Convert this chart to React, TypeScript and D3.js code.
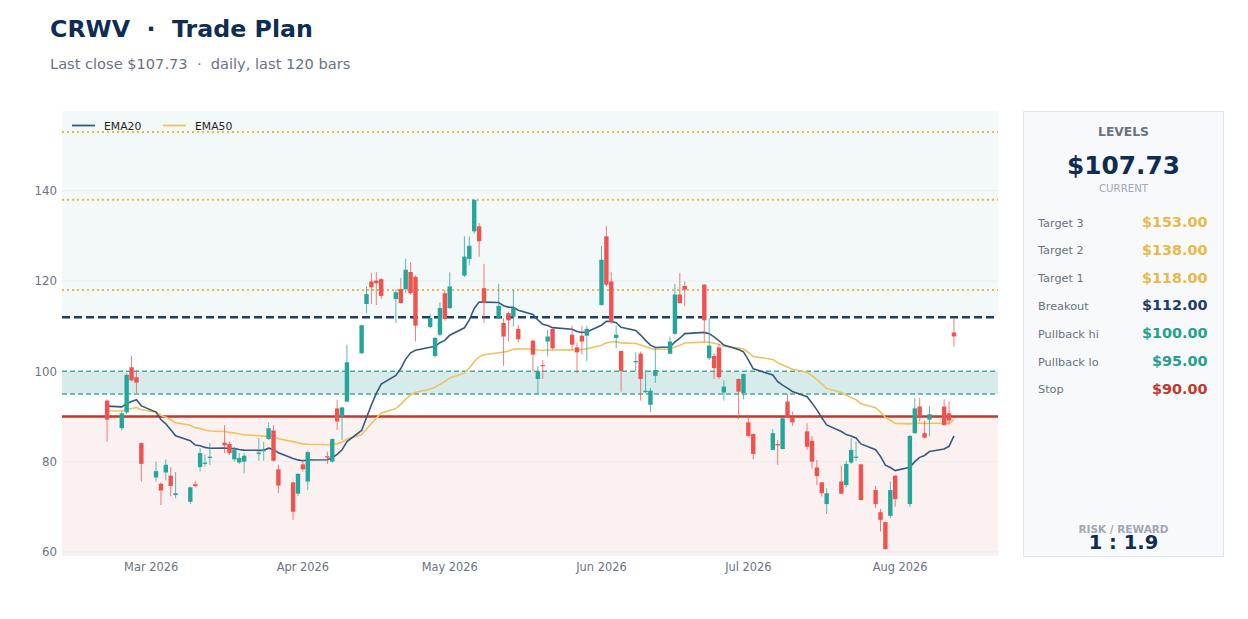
import * as d3 from "d3";
import { useEffect, useRef } from "react";

const ticker = "CRWV";
const startDate = new Date(2026, 1, 20);
const endDate = new Date(2026, 7, 12);
const holidays = ["2026-04-03", "2026-05-25", "2026-06-19", "2026-07-03"];

const opens = [
    93.5, 87.4, 90.9, 100.9, 98.7, 84.1,
    76.5, 75.1, 77.6, 76.9, 72.6,
    71.1, 75.0, 78.8, 79.5, 80.8,
    84.2, 83.9, 80.5, 79.8, 80.0,
    81.7, 82.3, 85.0, 86.9, 78.3,
    75.4, 72.9, 79.4, 75.6,
    81.2, 80.0, 91.8, 90.0, 93.3,
    104.0, 114.9, 119.9, 120.1, 120.4,
    116.0, 118.2, 118.2, 122.0, 120.9,
    109.8, 103.4, 108.1, 117.3, 114.0,
    121.2, 124.9, 131.0, 132.1, 118.4,
    111.9, 110.7, 112.9, 112.1, 109.4,
    106.8, 98.3, 101.4, 106.6, 109.4,
    108.1, 105.3, 107.9, 107.9,
    114.7, 129.9, 119.9, 107.4, 104.5,
    102.0, 103.9, 95.4, 92.6, 99.0,
    103.9, 108.3, 117.0, 118.9,
    119.2, 102.9, 103.4, 105.3, 95.3,
    98.3, 95.2, 88.7, 86.1,
    82.6, 83.9, 82.8, 93.3, 89.9,
    86.7, 84.6, 78.7, 75.4, 70.6,
    75.6, 74.8, 79.8, 80.9, 79.4,
    73.7, 68.8, 66.6, 68.0, 76.9,
    70.6, 86.3, 92.2, 86.3, 89.3,
    92.2, 90.7, 108.6
];

const highs = [
    93.8, 91.1, 99.5, 103.4, 100.3, 84.3,
    80.0, 75.4, 80.5, 78.8, 77.7,
    74.5, 75.7, 83.0, 81.5, 84.1,
    88.1, 84.5, 83.3, 81.9, 81.9,
    85.2, 84.4, 88.7, 88.1, 79.3,
    75.6, 77.4, 80.4, 82.4,
    82.2, 85.2, 93.7, 92.2, 105.9,
    110.3, 118.8, 121.8, 122.0, 120.7,
    118.1, 120.7, 124.9, 124.1, 121.2,
    112.7, 107.6, 115.2, 118.0, 121.9,
    129.9, 129.9, 138.0, 132.8, 123.8,
    119.4, 111.8, 113.2, 118.1, 110.3,
    107.0, 101.2, 102.5, 109.2, 109.6,
    110.1, 106.3, 110.1, 110.1,
    127.8, 132.2, 121.9, 110.1, 104.6,
    104.2, 104.4, 100.3, 96.3, 105.1,
    107.7, 119.4, 121.8, 119.9,
    119.3, 111.8, 104.0, 106.1, 98.0,
    98.4, 99.5, 90.4, 86.3,
    87.2, 84.8, 89.7, 95.0, 91.1,
    88.5, 85.7, 80.4, 75.5, 74.1,
    79.1, 80.2, 85.2, 84.4, 79.5,
    74.6, 69.5, 66.7, 75.6, 77.0,
    85.9, 94.1, 94.1, 89.1, 92.4,
    93.8, 93.3, 111.6
];

const lows = [
    84.4, 86.9, 90.6, 97.8, 95.2, 75.6,
    75.6, 70.4, 75.8, 72.3, 71.9,
    70.6, 74.3, 77.8, 78.9, 79.3,
    81.9, 81.5, 80.0, 79.5, 77.4,
    80.2, 80.2, 84.8, 80.0, 73.0,
    67.1, 72.4, 77.8, 73.7,
    79.5, 79.8, 87.0, 84.8, 93.1,
    103.8, 112.9, 114.9, 114.7, 116.0,
    110.7, 115.0, 117.3, 117.0, 106.6,
    109.5, 103.0, 107.7, 111.2, 113.8,
    120.9, 123.5, 130.5, 125.4, 110.7,
    111.5, 101.2, 106.6, 109.9, 106.4,
    100.0, 94.8, 98.3, 103.3, 104.8,
    104.9, 99.6, 103.7, 102.2,
    114.5, 118.8, 110.5, 105.1, 95.5,
    100.0, 93.5, 95.2, 90.9, 97.4,
    103.8, 108.1, 115.0, 114.4,
    106.6, 102.5, 98.3, 98.3, 93.5,
    89.4, 93.8, 85.4, 80.5,
    82.5, 79.3, 82.7, 89.8, 87.9,
    82.6, 78.5, 74.8, 72.3, 68.4,
    72.8, 74.3, 79.5, 80.2, 71.4,
    69.7, 64.5, 60.6, 67.5, 70.0,
    69.9, 86.2, 88.9, 85.2, 85.6,
    88.0, 88.1, 105.5
];

const closes = [
    89.3, 90.7, 99.2, 98.0, 97.5, 79.5,
    77.9, 73.6, 79.3, 74.6, 73.0,
    74.3, 74.6, 81.9, 79.8, 81.1,
    83.6, 81.9, 82.6, 80.8, 81.3,
    82.0, 82.6, 87.4, 80.2, 74.7,
    68.9, 77.3, 78.3, 82.1,
    80.9, 85.0, 88.9, 92.0, 102.0,
    110.2, 117.1, 118.6, 119.5, 116.7,
    117.5, 115.1, 122.5, 117.3, 110.1,
    111.8, 107.4, 114.0, 111.6, 118.8,
    125.4, 127.8, 138.0, 128.8, 115.2,
    114.5, 107.7, 111.3, 114.0, 107.1,
    103.7, 100.0, 101.2, 107.7, 105.1,
    105.9, 104.2, 106.6, 109.4,
    124.7, 119.2, 111.0, 108.1, 100.1,
    102.3, 98.3, 95.7, 95.7, 100.3,
    106.6, 117.0, 115.1, 118.1,
    111.3, 105.7, 100.7, 98.7, 96.6,
    95.5, 99.4, 85.7, 81.7,
    86.3, 83.6, 89.6, 89.9, 88.7,
    83.3, 80.0, 76.8, 73.0, 73.0,
    72.9, 79.5, 82.6, 81.1, 71.5,
    70.6, 67.1, 60.6, 73.7, 71.7,
    85.7, 91.8, 90.0, 85.3, 90.5,
    88.1, 89.1, 107.73
];

// ema value just before the first bar
const ema20Seed = 92.6;
const ema50Seed = 91.3;

const levelNames = ["Target 3", "Target 2", "Target 1", "Breakout", "Pullback hi", "Pullback lo", "Stop"];
const levelValues = [153, 138, 118, 112, 100, 95, 90];
const yTicks = [60, 80, 100, 120, 140];
const yDomain = [59.1, 157.65];
const riskReward = "1 : 1.9";

const GOLD = "#e9b949";
const NAVY = "#0f2d52";
const BLUE = "#1b3f68";
const TEAL = "#26a08a";
const RED = "#c0392b";
const UP = "#26a69a";
const DOWN = "#ef5350";
const GRAY = "#6b7280";
const LIGHT = "#a0a7b4";
const levelColors = [GOLD, GOLD, GOLD, BLUE, TEAL, TEAL, RED];

const fmtDate = d3.timeFormat("%Y-%m-%d");

const tradingDays = () => d3.timeDay.range(startDate, d3.timeDay.offset(endDate, 1))
    .filter(d => d.getDay() !== 0 && d.getDay() !== 6 && !holidays.includes(fmtDate(d)));

const ema = (values: number[], period: number, seed: number) => {
    const k = 2 / (period + 1);
    let prev = seed;
    return values.map(v => (prev = prev + (v - prev) * k));
};

const plot = { left: 62, right: 998, top: 111, bottom: 556 };

const App = () => {
    const ref = useRef<SVGSVGElement>(null);

    useEffect(() => {
        const svg = d3.select(ref.current);
        svg.selectAll("*").remove();
        const font = "DejaVu Sans";

        const dates = tradingDays();
        const bars = dates.map((date, i) => ({
            date, open: opens[i], high: highs[i], low: lows[i], close: closes[i]
        }));
        const ema20 = ema(closes, 20, ema20Seed);
        const ema50 = ema(closes, 50, ema50Seed);

        const x = d3.scaleTime()
            .domain([d3.timeHour.offset(dates[0], -221), d3.timeHour.offset(dates[dates.length - 1], 216)])
            .range([plot.left, plot.right]);
        const y = d3.scaleLinear().domain(yDomain).range([plot.bottom, plot.top]);
        const plotW = plot.right - plot.left;

        // title
        svg.append("text").attr("x", 50).attr("y", 37)
            .attr("font-family", font).attr("font-size", 23.7).attr("font-weight", "bold")
            .attr("fill", NAVY).attr("xml:space", "preserve")
            .text(`${ticker}  ·  Trade Plan`);
        svg.append("text").attr("x", 50).attr("y", 69)
            .attr("font-family", font).attr("font-size", 14.6).attr("fill", GRAY)
            .attr("xml:space", "preserve")
            .text(`Last close $${closes[closes.length - 1].toFixed(2)}  ·  daily, last ${bars.length} bars`);

        // zones
        const g = svg.append("g");
        g.append("rect").attr("x", plot.left).attr("width", plotW)
            .attr("y", plot.top).attr("height", y(levelValues[3]) - plot.top).attr("fill", "#f3f8f8");
        g.append("rect").attr("x", plot.left).attr("width", plotW)
            .attr("y", y(levelValues[4])).attr("height", y(levelValues[5]) - y(levelValues[4])).attr("fill", "#d7ecea");
        g.append("rect").attr("x", plot.left).attr("width", plotW)
            .attr("y", y(levelValues[6])).attr("height", plot.bottom - y(levelValues[6])).attr("fill", "#fbf1f1");

        // grid + y labels
        g.append("g").selectAll("line").data(yTicks).join("line")
            .attr("x1", plot.left).attr("x2", plot.right)
            .attr("y1", d => y(d)).attr("y2", d => y(d))
            .attr("stroke", "#e6ebef").attr("stroke-width", 0.8);
        g.append("g").selectAll("text").data(yTicks).join("text")
            .attr("x", 57).attr("y", d => y(d) + 4.3)
            .attr("text-anchor", "end").attr("font-family", font).attr("font-size", 11.8)
            .attr("fill", GRAY).text(d => d);

        // x labels
        g.append("g").selectAll("text").data(d3.timeMonth.range(d3.timeMonth.ceil(x.domain()[0]), x.domain()[1]))
            .join("text")
            .attr("x", d => x(d)).attr("y", 571)
            .attr("text-anchor", "middle").attr("font-family", font).attr("font-size", 11.4)
            .attr("fill", GRAY).text(d3.timeFormat("%b %Y"));

        // level lines
        const levelLine = (v: number, color: string, width: number, dash: string | null) => {
            const l = g.append("line").attr("x1", plot.left).attr("x2", plot.right)
                .attr("y1", y(v)).attr("y2", y(v))
                .attr("stroke", color).attr("stroke-width", width);
            if (dash) l.attr("stroke-dasharray", dash);
        };
        levelLine(levelValues[0], GOLD, 2, "2 3");
        levelLine(levelValues[1], GOLD, 2, "2 3");
        levelLine(levelValues[2], GOLD, 2, "2 3");
        levelLine(levelValues[4], "#4aa89a", 1.5, "5 3");
        levelLine(levelValues[5], "#4aa89a", 1.5, "5 3");
        levelLine(levelValues[6], RED, 2.5, null);
        levelLine(levelValues[3], BLUE, 2.5, "8 4");

        // emas
        const line = d3.line<number>().x((_, i) => x(dates[i])).y(d => y(d));
        g.append("path").attr("d", line(ema50)).attr("fill", "none")
            .attr("stroke", "#efc25e").attr("stroke-width", 1.6);
        g.append("path").attr("d", line(ema20)).attr("fill", "none")
            .attr("stroke", "#345a80").attr("stroke-width", 1.6);

        // candles
        const candles = g.append("g").selectAll("g").data(bars).join("g");
        candles.append("line")
            .attr("x1", d => x(d.date)).attr("x2", d => x(d.date))
            .attr("y1", d => y(d.high)).attr("y2", d => y(d.low))
            .attr("stroke", d => d.close >= d.open ? UP : DOWN)
            .attr("stroke-opacity", 0.75).attr("stroke-width", 1);
        candles.append("rect")
            .attr("x", d => x(d.date) - 2.2).attr("width", 4.4)
            .attr("y", d => y(Math.max(d.open, d.close)))
            .attr("height", d => Math.max(1.2, Math.abs(y(d.open) - y(d.close))))
            .attr("fill", d => d.close >= d.open ? UP : DOWN);

        // legend
        const legend = g.append("g");
        [["EMA20", "#345a80", 72], ["EMA50", "#efc25e", 163]].forEach(([name, color, lx]) => {
            legend.append("line").attr("x1", lx as number).attr("x2", (lx as number) + 23)
                .attr("y1", 125.5).attr("y2", 125.5).attr("stroke", color as string).attr("stroke-width", 1.8);
            legend.append("text").attr("x", (lx as number) + 32).attr("y", 129.5)
                .attr("font-family", font).attr("font-size", 10.8).attr("fill", "#1f1f1f").text(name as string);
        });

        // side panel
        const p = svg.append("g");
        const px = 1023.5, pw = 200;
        const cx = px + pw / 2;
        p.append("rect").attr("x", px).attr("y", 111.5).attr("width", pw).attr("height", 445)
            .attr("fill", "#f8f9fb").attr("stroke", "#dfe5ee").attr("stroke-width", 1);
        p.append("text").attr("x", cx).attr("y", 135.5).attr("text-anchor", "middle")
            .attr("font-family", font).attr("font-size", 12.3).attr("font-weight", "bold")
            .attr("fill", GRAY).text("LEVELS");
        p.append("text").attr("x", cx).attr("y", 174).attr("text-anchor", "middle")
            .attr("font-family", font).attr("font-size", 24.8).attr("font-weight", "bold")
            .attr("fill", NAVY).text(`$${closes[closes.length - 1].toFixed(2)}`);
        p.append("text").attr("x", cx).attr("y", 191.5).attr("text-anchor", "middle")
            .attr("font-family", font).attr("font-size", 10.2).attr("fill", LIGHT).text("CURRENT");
        levelNames.forEach((name, i) => {
            const ry = 226.5 + i * 27.8;
            p.append("text").attr("x", 1038).attr("y", ry)
                .attr("font-family", font).attr("font-size", 11.3).attr("fill", GRAY).text(name);
            p.append("text").attr("x", 1207.5).attr("y", ry + 0.5).attr("text-anchor", "end")
                .attr("font-family", font).attr("font-size", 14.4).attr("font-weight", "bold")
                .attr("fill", levelColors[i]).text(`$${levelValues[i].toFixed(2)}`);
        });
        p.append("text").attr("x", cx).attr("y", 532.5).attr("text-anchor", "middle")
            .attr("font-family", font).attr("font-size", 10.5).attr("font-weight", "bold")
            .attr("fill", LIGHT).text("RISK / REWARD");
        p.append("text").attr("x", cx).attr("y", 548.5).attr("text-anchor", "middle")
            .attr("font-family", font).attr("font-size", 19.5).attr("font-weight", "bold")
            .attr("fill", NAVY).text(riskReward);
    }, []);

    return <svg ref={ref} width={1248} height={619}
        style={{ position: "absolute", left: 0, top: 0, background: "#fff" }} />;
};

export default App;
